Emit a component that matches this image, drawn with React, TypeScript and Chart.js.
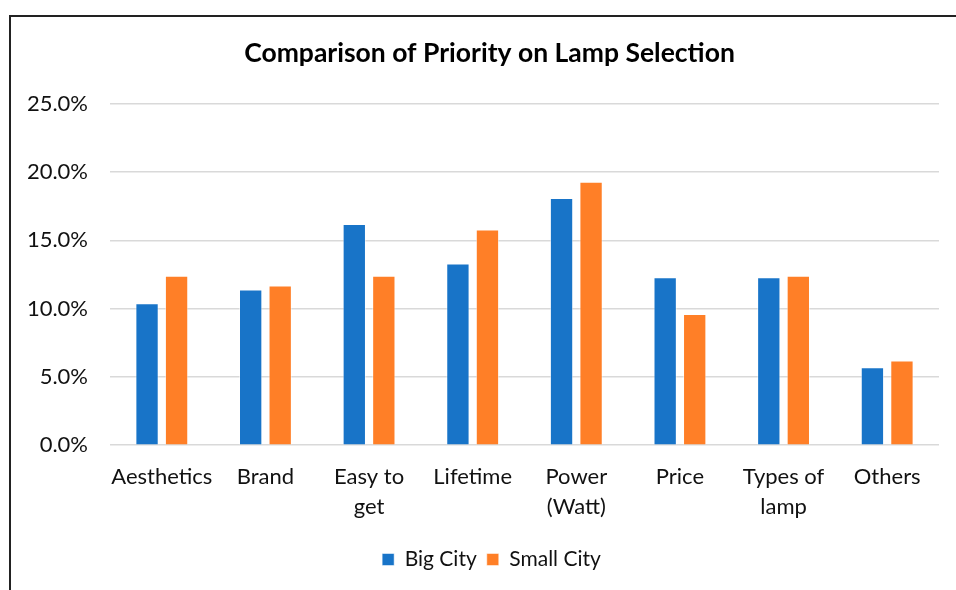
import React, { useEffect, useRef } from "react";
import { Chart, registerables } from "chart.js";

Chart.register(...registerables);

const categories: (string | string[])[] = [
  "Aesthetics",
  "Brand",
  ["Easy to", "get"],
  "Lifetime",
  ["Power", "(Watt)"],
  "Price",
  ["Types of", "lamp"],
  "Others",
];
const bigCity = [10.4, 11.4, 16.2, 13.3, 18.1, 12.3, 12.3, 5.7];
const smallCity = [12.4, 11.7, 12.4, 15.8, 19.3, 9.6, 12.4, 6.2];
const seriesNames = ["Big City", "Small City"];
const yTicks = [0, 5, 10, 15, 20, 25];

const FONT = "Lato, 'Noto Sans', sans-serif";

const shiftPlugin = {
  id: "shiftBoxes",
  afterLayout(chart: any) {
    const t = chart.titleBlock;
    if (t) {
      t.left += 20;
      t.right += 20;
    }
    const l = chart.legend;
    if (l) {
      l.left += 22;
      l.right += 22;
    }
  },
};

export default function App() {
  const ref = useRef<HTMLCanvasElement | null>(null);
  useEffect(() => {
    if (!ref.current) return;
    const chart = new Chart(ref.current, {
      type: "bar",
      data: {
        labels: categories,
        datasets: [
          {
            label: seriesNames[0],
            data: bigCity,
            backgroundColor: "#1874C8",
            borderColor: "rgba(255,255,255,0.5)",
            borderWidth: 1,
            categoryPercentage: 0.57,
            barPercentage: 0.79,
          },
          {
            label: seriesNames[1],
            data: smallCity,
            backgroundColor: "#FF7F27",
            borderColor: "rgba(255,255,255,0.5)",
            borderWidth: 1,
            categoryPercentage: 0.57,
            barPercentage: 0.79,
          },
        ],
      },
      plugins: [shiftPlugin],
      options: {
        animation: false,
        responsive: true,
        maintainAspectRatio: false,
        layout: { padding: { top: 30, left: 0, right: 17, bottom: 10 } },
        plugins: {
          title: {
            display: true,
            text: "Comparison of Priority on Lamp Selection",
            color: "#000",
            font: { family: FONT, size: 26.5, weight: "bold" },
            padding: { top: 8, bottom: 34 },
          },
          legend: {
            display: true,
            position: "bottom",
            labels: {
              color: "#111",
              font: { family: FONT, size: 21 },
              boxWidth: 12,
              boxHeight: 12,
              padding: 10,
            },
          },
          tooltip: { enabled: false },
        },
        scales: {
          x: {
            grid: { display: false, drawTicks: false },
            border: { display: false },
            ticks: {
              color: "#111",
              font: { family: FONT, size: 22, lineHeight: 1.36 },
              padding: 17,
              maxRotation: 0,
              autoSkip: false,
            },
          },
          y: {
            min: 0,
            max: 25,
            afterFit: (s: any) => {
              s.width = 110;
            },
            afterBuildTicks: (s: any) => {
              s.ticks = yTicks.map((v) => ({ value: v }));
            },
            grid: { color: "#d9d9d9", lineWidth: 1.5, drawTicks: false },
            border: { display: false },
            ticks: {
              color: "#111",
              font: { family: FONT, size: 22 },
              padding: 22,
              callback: (v: any) => Number(v).toFixed(1) + "%",
            },
          },
        },
      },
    });
    return () => chart.destroy();
  }, []);

  return (
    <div style={{ position: "absolute", left: 0, top: 0, width: 956, height: 590, background: "#fff", overflow: "hidden" }}>
      <canvas ref={ref} />
      <div
        style={{
          position: "absolute",
          left: 9,
          top: 15,
          width: 1000,
          height: 700,
          borderLeft: "2px solid #222",
          borderTop: "2px solid #222",
          pointerEvents: "none",
        }}
      />
    </div>
  );
}
